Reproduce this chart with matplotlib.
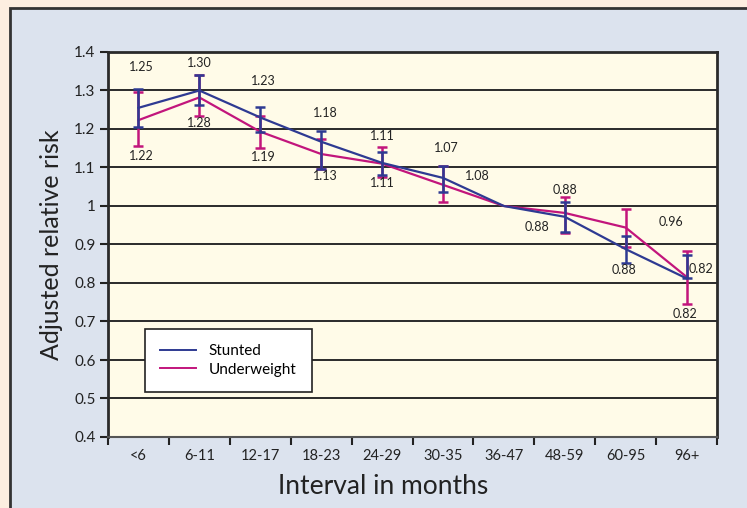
import numpy as np
import matplotlib
matplotlib.use("Agg")
import matplotlib.pyplot as plt
from matplotlib.patches import Rectangle

plt.rcParams['font.family'] = ['Lato', 'DejaVu Sans']

# data
categories = ["<6", "6-11", "12-17", "18-23", "24-29", "30-35", "36-47", "48-59", "60-95", "96+"]
stunted = [1.255, 1.30, 1.23, 1.167, 1.112, 1.073, 1.0, 0.972, 0.888, 0.812]
stunted_lo = [1.204, 1.262, 1.193, 1.096, 1.08, 1.037, np.nan, 0.933, 0.853, 0.812]
stunted_hi = [1.304, 1.34, 1.258, 1.195, 1.141, 1.105, np.nan, 1.011, 0.922, 0.873]
underweight = [1.223, 1.282, 1.193, 1.135, 1.11, 1.055, 1.0, 0.982, 0.944, 0.816]
under_lo = [1.156, 1.234, 1.15, 1.096, 1.075, 1.01, np.nan, 0.931, 0.894, 0.745]
under_hi = [1.297, 1.34, 1.234, 1.175, 1.154, 1.105, np.nan, 1.024, 0.993, 0.883]

# value labels as printed on the chart (text, x in category units, y)
label_text = ["1.25", "1.22", "1.30", "1.28", "1.23", "1.19", "1.18", "1.13",
              "1.11", "1.11", "1.07", "1.08", "0.88", "0.88", "0.96", "0.88", "0.82", "0.82"]
label_x = [0.05, 0.05, 1.0, 1.0, 2.05, 2.05, 3.07, 3.07,
           4.0, 4.0, 5.05, 5.56, 7.0, 6.54, 8.74, 7.98, 9.23, 8.97]
label_y = [1.361, 1.13, 1.371, 1.216, 1.325, 1.127, 1.242, 1.078,
           1.182, 1.06, 1.151, 1.078, 1.042, 0.945, 0.958, 0.834, 0.836, 0.72]

yticks = [0.4, 0.5, 0.6, 0.7, 0.8, 0.9, 1.0, 1.1, 1.2, 1.3, 1.4]

BLUE = "#2e3a92"
MAGENTA = "#c2157c"

fig = plt.figure(figsize=(7.47, 5.08), dpi=100)
fig.patch.set_facecolor("#fdeee0")
panel = Rectangle((9.5 / 747, -0.1), 1.2, (508 - 8.5) / 508 + 0.1,
                  transform=fig.transFigure, facecolor="#dce3ee",
                  edgecolor="#333333", lw=2, zorder=-5)
fig.patches.append(panel)

ax = fig.add_axes([108 / 747, (508 - 437) / 508, 609 / 747, 385 / 508])
ax.set_zorder(2)
ax.set_facecolor("#fffbe8")

x = np.arange(len(categories))

def draw(vals, lo, hi, color, z, name):
    vals = np.array(vals)
    lo = np.array(lo)
    hi = np.array(hi)
    err = np.vstack([vals - lo, hi - vals])
    line, = ax.plot(x, vals, color=color, lw=1.6, zorder=z, label=name)
    ax.errorbar(x, vals, yerr=err, fmt="none", ecolor=color, elinewidth=1.8,
                capsize=3.5, capthick=1.8, zorder=z)
    return line

l_under = draw(underweight, under_lo, under_hi, MAGENTA, 3, "Underweight")
l_stunt = draw(stunted, stunted_lo, stunted_hi, BLUE, 4, "Stunted")

for t, lx, ly in zip(label_text, label_x, label_y):
    ax.text(lx, ly, t, ha="center", va="center", fontsize=9, color="#222222", zorder=5)

ax.set_xlim(-0.5, len(categories) - 0.5)
ax.set_ylim(0.4, 1.4)
ax.set_yticks(yticks)
ax.set_yticklabels(["%g" % v for v in yticks], fontsize=11, color="#222222")
ax.set_xticks(x)
ax.set_xticklabels(categories, fontsize=10.5, color="#222222")
ax.set_xticks(np.arange(-0.5, len(categories)), minor=True)
ax.tick_params(axis="x", which="major", length=0, pad=9)
ax.tick_params(axis="x", which="minor", length=6, width=1.5, color="#222222")
ax.tick_params(axis="y", length=6, width=1.5, color="#222222", pad=3)

for v in yticks[1:-1]:
    ax.axhline(v, color="#2a2a2a", lw=1.4, zorder=1)

for s in ["left", "top", "right"]:
    ax.spines[s].set_color("#2a2a2a")
    ax.spines[s].set_linewidth(2)
ax.spines["bottom"].set_color("#555555")
ax.spines["bottom"].set_linewidth(1.5)

ax.set_ylabel("Adjusted relative risk", fontsize=18, color="#222222", labelpad=8)
fig.text(383 / 747, 1 - 487 / 508, "Interval in months", fontsize=19,
         color="#222222", ha="center", va="center")

leg = ax.legend([l_stunt, l_under], ["Stunted", "Underweight"], loc="lower left",
                bbox_to_anchor=(0.06, 0.117), fontsize=11, frameon=True,
                fancybox=False, handlelength=2.4, borderpad=1.0, labelspacing=0.3,
                handletextpad=0.8, borderaxespad=0)
leg.get_frame().set_edgecolor("#222222")
leg.get_frame().set_linewidth(1.2)
leg.get_frame().set_facecolor("white")
leg.get_frame().set_alpha(1)
for h in leg.get_lines():
    h.set_linewidth(1.4)
leg.set_zorder(6)

fig.savefig("out.png", dpi=100, facecolor=fig.get_facecolor())
